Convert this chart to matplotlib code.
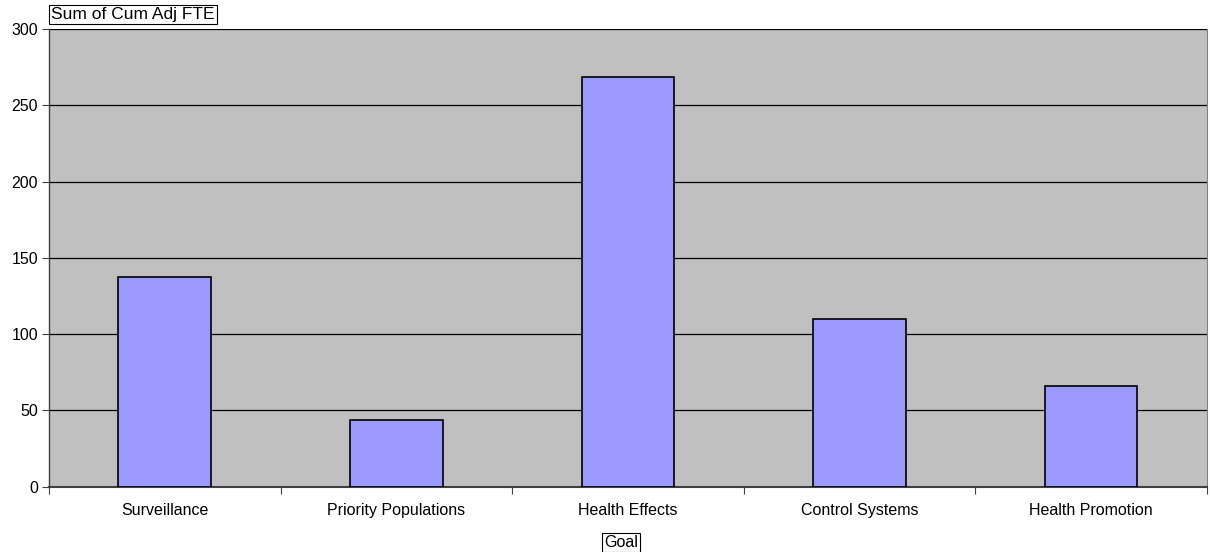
import matplotlib
matplotlib.use("Agg")
import matplotlib.pyplot as plt
from matplotlib.ticker import FixedLocator, NullFormatter

goals = ["Surveillance", "Priority Populations", "Health Effects",
         "Control Systems", "Health Promotion"]
fte = [137.6, 43.7, 268.3, 109.7, 66.0]
y_ticks = [0, 50, 100, 150, 200, 250, 300]

plt.rcParams["font.family"] = ["Liberation Sans", "DejaVu Sans"]

fig = plt.figure(figsize=(12.10, 5.52), dpi=100)
ax = fig.add_axes([0.0405, 0.1183, 0.957, 0.8292])
ax.set_facecolor("#C0C0C0")

x = list(range(len(goals)))
ax.bar(x, fte, width=0.4, color="#9999FF", edgecolor="black", linewidth=1.2, zorder=3)

ax.set_xlim(-0.5, len(goals) - 0.5)
ax.set_ylim(0, 300)
ax.set_yticks(y_ticks)
ax.yaxis.grid(True, color="black", linewidth=0.9, zorder=1)
ax.set_axisbelow(True)

ax.set_xticks(x)
ax.set_xticklabels(goals, fontsize=11.5)
ax.xaxis.set_minor_locator(FixedLocator([i + 0.5 for i in range(-1, len(goals))]))
ax.xaxis.set_minor_formatter(NullFormatter())
ax.tick_params(axis="x", which="major", length=0, pad=12)
ax.tick_params(axis="x", which="minor", length=5, width=0.8, color="#404040")
ax.tick_params(axis="y", length=5, width=0.8, labelsize=11.5, pad=3, color="#404040")

ax.spines["top"].set_visible(False)
ax.spines["right"].set_color("#808080")
ax.spines["left"].set_color("#404040")
ax.spines["bottom"].set_color("#404040")
ax.spines["left"].set_linewidth(1.0)
ax.spines["bottom"].set_linewidth(1.5)

box = dict(boxstyle="square,pad=0.12", facecolor="white", edgecolor="black", linewidth=0.8)
fig.text(0.0425, 0.973, "Sum of Cum Adj FTE", fontsize=12.5, ha="left", va="center", bbox=box)
fig.text(0.5135, 0.0165, "Goal", fontsize=11.5, ha="center", va="center", bbox=box)

fig.savefig("out.png", dpi=100)
